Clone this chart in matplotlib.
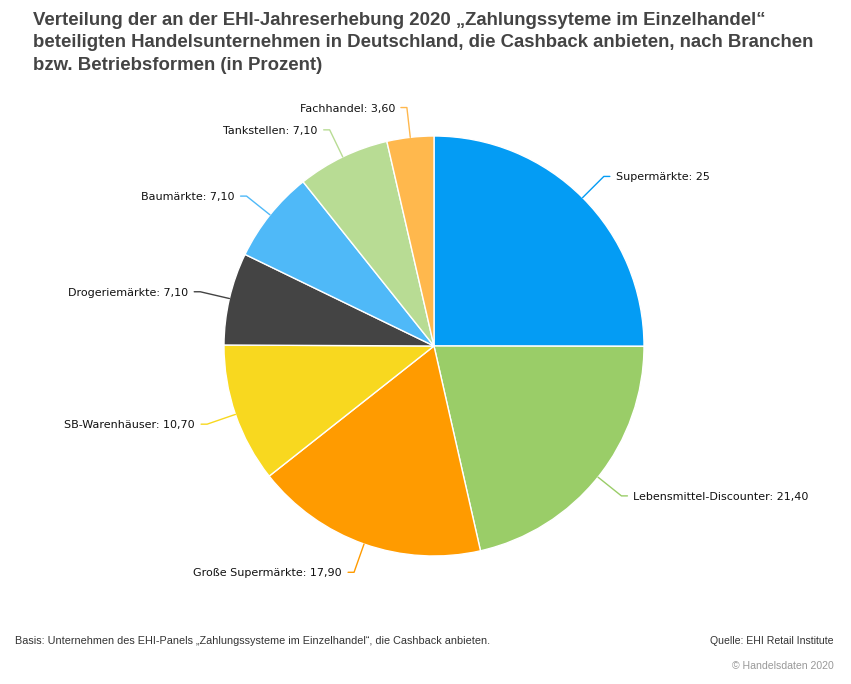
""" Pie chart: Cashback-Anbieter nach Branchen (EHI 2020) """
import matplotlib.pyplot as plt
import numpy as np

categories = ["Supermärkte", "Lebensmittel-Discounter", "Große Supermärkte",
              "SB-Warenhäuser", "Drogeriemärkte", "Baumärkte", "Tankstellen",
              "Fachhandel"]
values = [25, 21.4, 17.9, 10.7, 7.1, 7.1, 7.1, 3.6]
value_labels = ["25", "21,40", "17,90", "10,70", "7,10", "7,10", "7,10", "3,60"]
colors = ["#049cf4", "#9acd68", "#ff9b00", "#f8d81f", "#444444",
          "#4fb9f8", "#b8dc94", "#ffb84d"]

title = ("Verteilung der an der EHI-Jahreserhebung 2020 „Zahlungssyteme im Einzelhandel“\n"
         "beteiligten Handelsunternehmen in Deutschland, die Cashback anbieten, nach Branchen\n"
         "bzw. Betriebsformen (in Prozent)")
basis = "Basis: Unternehmen des EHI-Panels „Zahlungssysteme im Einzelhandel“, die Cashback anbieten."
quelle = "Quelle: EHI Retail Institute"
copyright_txt = "© Handelsdaten 2020"

W, H = 851, 684
fig = plt.figure(figsize=(W / 100, H / 100), dpi=100)
ax = fig.add_axes([0, 0, 1, 1])

cx, cy, r = 434, H - 346, 210
wedges, _ = ax.pie(values, colors=colors, startangle=90, counterclock=False,
                   center=(cx, cy), radius=r, frame=True,
                   wedgeprops=dict(edgecolor="white", linewidth=1))
ax.set_xlim(0, W)
ax.set_ylim(0, H)
ax.set_aspect("equal")
ax.axis("off")

# data labels with connectors
for w, cat, lab, col in zip(wedges, categories, value_labels, colors):
    ang = np.deg2rad((w.theta1 + w.theta2) / 2)
    x0, y0 = cx + r * np.cos(ang), cy + r * np.sin(ang)
    x1, y1 = cx + (r + 30) * np.cos(ang), cy + (r + 30) * np.sin(ang)
    side = 1 if np.cos(ang) >= 0 else -1
    x2 = x1 + side * 6
    ax.plot([x0, x1, x2], [y0, y1, y1], color=col, lw=1, solid_capstyle="round")
    ax.text(x2 + side * 6, y1 - 1, f"{cat}: {lab}", ha="left" if side > 0 else "right",
            va="center", fontsize=8, color="#111111", family="DejaVu Sans")

fig.text(33 / W, 1 - 12 / H, title, ha="left", va="top", fontsize=13.4,
         fontweight="bold", color="#444444", family="Liberation Sans",
         linespacing=1.42)
fig.text(15 / W, 1 - 641 / H, basis, ha="left", va="center", fontsize=7.8,
         color="#333333", family="Liberation Sans")
fig.text(834 / W, 1 - 641 / H, quelle, ha="right", va="center", fontsize=7.6,
         color="#333333", family="Liberation Sans")
fig.text(834 / W, 1 - 666 / H, copyright_txt, ha="right", va="center", fontsize=7.6,
         color="#999999", family="Liberation Sans")

fig.savefig("out.png", dpi=100)
